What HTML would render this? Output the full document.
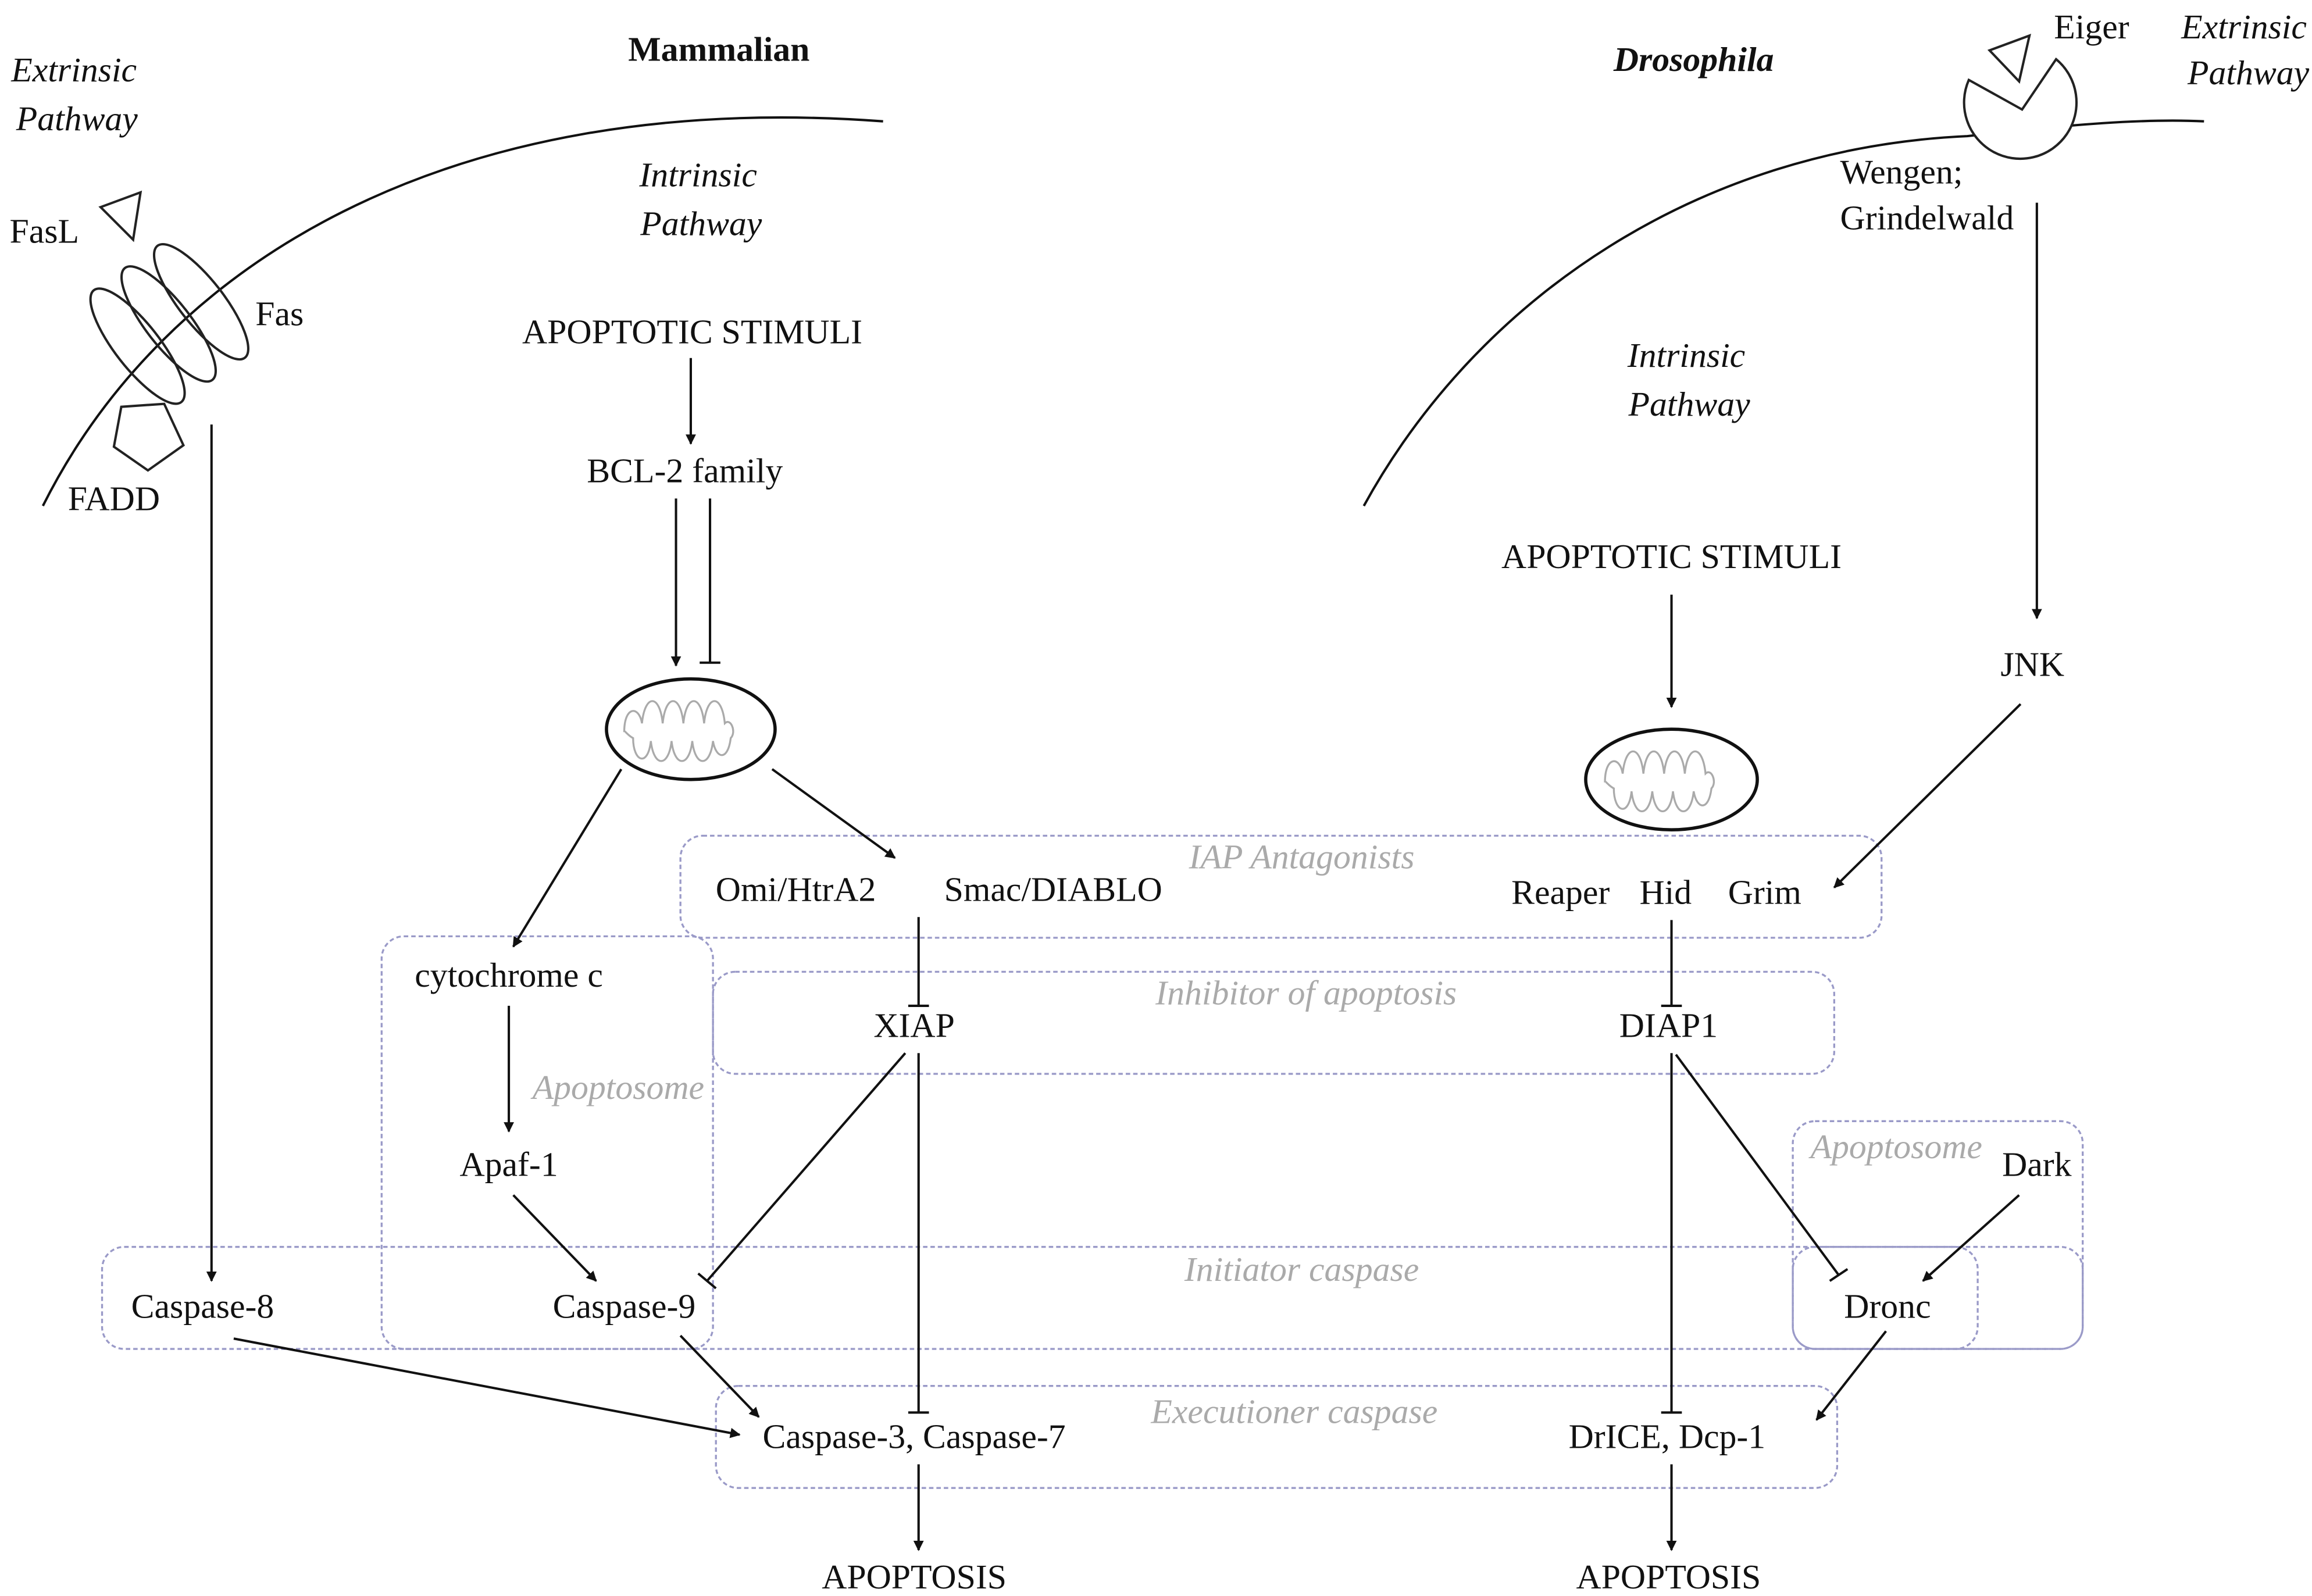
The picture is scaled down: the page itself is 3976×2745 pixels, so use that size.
<!DOCTYPE html>
<html><head><meta charset="utf-8"><style>
html,body{margin:0;padding:0;background:#fff}
svg{display:block}
text{font-family:"Liberation Serif",serif;font-size:23.5px;fill:#111}
.g{fill:#aaa;font-style:italic}
.i{font-style:italic}
.box{fill:none;stroke:#9a9ac8;stroke-width:1.3;stroke-dasharray:3,2}
.l{stroke:#111;stroke-width:1.6;fill:none}
</style></head><body>
<svg width="3976" height="2745" viewBox="0 0 1563 1079" xmlns="http://www.w3.org/2000/svg">
<defs>
<marker id="a" viewBox="0 0 10 10" refX="9" refY="5" markerWidth="7" markerHeight="7" orient="auto" markerUnits="userSpaceOnUse"><path d="M0,0 L10,5 L0,10 Z" fill="#111"/></marker>
</defs>
<rect class="box" x="460" y="565" width="812" height="69" rx="15"/>
<rect class="box" x="482" y="657" width="758" height="69" rx="15"/>
<rect class="box" x="258" y="633" width="224" height="279" rx="15"/>
<rect class="box" x="69" y="843" width="1339" height="69" rx="15"/>
<rect class="box" x="484" y="937" width="758" height="69" rx="15"/>
<rect class="box" x="1212" y="758" width="196" height="154" rx="15"/>
<rect class="box" x="1212" y="843" width="125" height="69" rx="15"/>
<text class="g" x="880" y="587" text-anchor="middle">IAP Antagonists</text>
<text class="g" x="883" y="679" text-anchor="middle">Inhibitor of apoptosis</text>
<text class="g" x="418" y="743" text-anchor="middle">Apoptosome</text>
<text class="g" x="880" y="866" text-anchor="middle">Initiator caspase</text>
<text class="g" x="875" y="962" text-anchor="middle">Executioner caspase</text>
<text class="g" x="1282" y="783" text-anchor="middle">Apoptosome</text>
<path class="l" d="M29,342 C110,180 300,60 597,82"/>
<path class="l" d="M922,342 C1000,200 1150,100 1330,92 C1400,84 1450,80 1490,82"/>
<g fill="none" stroke="#222" stroke-width="1.6">
<ellipse cx="93" cy="234" rx="15" ry="48" transform="rotate(-38 93 234)"/>
<ellipse cx="114" cy="219" rx="15" ry="48" transform="rotate(-38 114 219)"/>
<ellipse cx="136" cy="204" rx="15" ry="48" transform="rotate(-38 136 204)"/>
<polygon points="68,140 95,130 90,162"/>
<polygon points="82,275 111,273 124,301 100,318 77,302"/>
<path d="M1331,54 L1367,74 L1390,40 A38,38 0 1 1 1331,54 Z" fill="#fff"/>
<polygon points="1345,34 1372,24 1365,55"/>
</g>
<g>
<ellipse cx="467" cy="493" rx="57" ry="34" fill="none" stroke="#111" stroke-width="2.2"/>
<path d="M422,495 c0,-18 10,-18 12,-6 c2,-20 12,-20 14,0 c2,-20 12,-20 14,0 c2,-20 12,-20 14,0 c2,-20 12,-20 14,0 c4,-4 8,6 4,10 c-2,16 -10,14 -12,2 c-2,18 -12,18 -14,0 c-2,18 -12,18 -14,0 c-2,18 -12,18 -14,0 c-2,18 -12,14 -12,-2 c-4,-2 -6,-6 -6,-4z" fill="none" stroke="#aaa" stroke-width="1.3"/>
<ellipse cx="1130" cy="527" rx="58" ry="34" fill="none" stroke="#111" stroke-width="2.2"/>
<path d="M1085,529 c0,-18 10,-18 12,-6 c2,-20 12,-20 14,0 c2,-20 12,-20 14,0 c2,-20 12,-20 14,0 c2,-20 12,-20 14,0 c4,-4 8,6 4,10 c-2,16 -10,14 -12,2 c-2,18 -12,18 -14,0 c-2,18 -12,18 -14,0 c-2,18 -12,18 -14,0 c-2,18 -12,14 -12,-2 c-4,-2 -6,-6 -6,-4z" fill="none" stroke="#aaa" stroke-width="1.3"/>
</g>
<g class="l">
<line x1="143" y1="287" x2="143" y2="866" marker-end="url(#a)"/>
<line x1="467" y1="242" x2="467" y2="300" marker-end="url(#a)"/>
<line x1="457" y1="337" x2="457" y2="450" marker-end="url(#a)"/>
<line x1="480" y1="337" x2="480" y2="448"/><line x1="473" y1="448" x2="487" y2="448"/>
<line x1="420" y1="520" x2="347" y2="640" marker-end="url(#a)"/>
<line x1="522" y1="520" x2="605" y2="580" marker-end="url(#a)"/>
<line x1="344" y1="680" x2="344" y2="765" marker-end="url(#a)"/>
<line x1="347" y1="808" x2="403" y2="866" marker-end="url(#a)"/>
<line x1="621" y1="620" x2="621" y2="680"/><line x1="614" y1="680" x2="628" y2="680"/>
<line x1="612" y1="712" x2="478" y2="866"/><line x1="472" y1="861" x2="484" y2="871"/>
<line x1="621" y1="712" x2="621" y2="955"/><line x1="614" y1="955" x2="628" y2="955"/>
<line x1="158" y1="905" x2="500" y2="970" marker-end="url(#a)"/>
<line x1="460" y1="903" x2="513" y2="958" marker-end="url(#a)"/>
<line x1="621" y1="990" x2="621" y2="1048" marker-end="url(#a)"/>
<line x1="1130" y1="402" x2="1130" y2="478" marker-end="url(#a)"/>
<line x1="1377" y1="137" x2="1377" y2="418" marker-end="url(#a)"/>
<line x1="1366" y1="476" x2="1240" y2="600" marker-end="url(#a)"/>
<line x1="1130" y1="622" x2="1130" y2="680"/><line x1="1123" y1="680" x2="1137" y2="680"/>
<line x1="1130" y1="712" x2="1130" y2="955"/><line x1="1123" y1="955" x2="1137" y2="955"/>
<line x1="1133" y1="713" x2="1243" y2="862"/><line x1="1237" y1="866" x2="1249" y2="858"/>
<line x1="1365" y1="808" x2="1300" y2="866" marker-end="url(#a)"/>
<line x1="1275" y1="900" x2="1228" y2="960" marker-end="url(#a)"/>
<line x1="1130" y1="990" x2="1130" y2="1048" marker-end="url(#a)"/>
</g>
<text class="i" x="50" y="55" text-anchor="middle">Extrinsic</text>
<text class="i" x="52" y="88" text-anchor="middle">Pathway</text>
<text x="486" y="41" text-anchor="middle" font-weight="bold">Mammalian</text>
<text class="i" x="472" y="126" text-anchor="middle">Intrinsic</text>
<text class="i" x="474" y="159" text-anchor="middle">Pathway</text>
<text x="30" y="164" text-anchor="middle">FasL</text>
<text x="189" y="220" text-anchor="middle">Fas</text>
<text x="77" y="345" text-anchor="middle">FADD</text>
<text x="468" y="232" text-anchor="middle">APOPTOTIC STIMULI</text>
<text x="463" y="326" text-anchor="middle">BCL-2 family</text>
<text x="1145" y="48" text-anchor="middle" font-weight="bold" font-style="italic">Drosophila</text>
<text x="1414" y="26" text-anchor="middle">Eiger</text>
<text class="i" x="1517" y="26" text-anchor="middle">Extrinsic</text>
<text class="i" x="1520" y="57" text-anchor="middle">Pathway</text>
<text x="1244" y="124">Wengen;</text>
<text x="1244" y="155">Grindelwald</text>
<text class="i" x="1140" y="248" text-anchor="middle">Intrinsic</text>
<text class="i" x="1142" y="281" text-anchor="middle">Pathway</text>
<text x="1130" y="384" text-anchor="middle">APOPTOTIC STIMULI</text>
<text x="1374" y="457" text-anchor="middle">JNK</text>
<text x="538" y="609" text-anchor="middle">Omi/HtrA2</text>
<text x="712" y="609" text-anchor="middle">Smac/DIABLO</text>
<text x="1055" y="611" text-anchor="middle">Reaper</text>
<text x="1126" y="611" text-anchor="middle">Hid</text>
<text x="1193" y="611" text-anchor="middle">Grim</text>
<text x="344" y="667" text-anchor="middle">cytochrome c</text>
<text x="618" y="701" text-anchor="middle">XIAP</text>
<text x="1128" y="701" text-anchor="middle">DIAP1</text>
<text x="344" y="795" text-anchor="middle">Apaf-1</text>
<text x="1377" y="795" text-anchor="middle">Dark</text>
<text x="137" y="891" text-anchor="middle">Caspase-8</text>
<text x="422" y="891" text-anchor="middle">Caspase-9</text>
<text x="1276" y="891" text-anchor="middle">Dronc</text>
<text x="618" y="979" text-anchor="middle">Caspase-3, Caspase-7</text>
<text x="1127" y="979" text-anchor="middle">DrICE, Dcp-1</text>
<text x="618" y="1074" text-anchor="middle">APOPTOSIS</text>
<text x="1128" y="1074" text-anchor="middle">APOPTOSIS</text>
</svg>
</body></html>
